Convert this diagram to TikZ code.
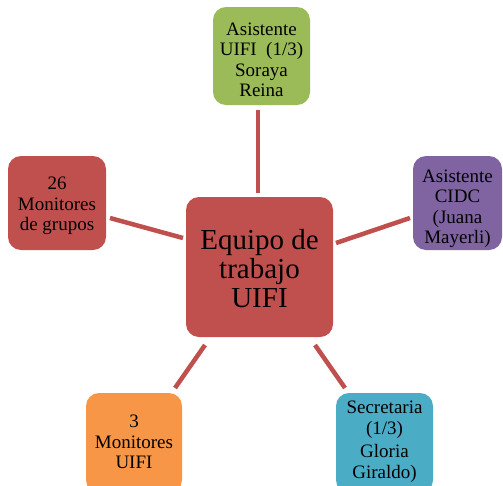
\documentclass[tikz,border=0pt]{standalone}
\usepackage{fontspec}
\setmainfont{Liberation Serif}
\definecolor{cred}{HTML}{C0504D}
\definecolor{cgreen}{HTML}{9BBB59}
\definecolor{cpurple}{HTML}{8064A2}
\definecolor{cblue}{HTML}{4BACC6}
\definecolor{corange}{HTML}{F79646}
\tikzset{
  box/.style={rounded corners=13pt, inner sep=0pt},
  btext/.style={align=center, font=\fontsize{19}{20.5}\selectfont, inner sep=0pt},
  link/.style={draw=cred, line width=4.5pt}
}
\begin{document}
\begin{tikzpicture}[x=1pt,y=-1pt]
\path[use as bounding box] (0,0) rectangle (503,485);
\clip (0,0) rectangle (503,485);
% boxes
\node[box, fill=cred, minimum width=147pt, minimum height=140pt] (c) at (259.5,267) {};
\node[box, fill=cgreen, minimum width=97pt, minimum height=98pt] (g) at (261.5,56) {};
\node[box, fill=cpurple, minimum width=89pt, minimum height=94pt] (p) at (457.5,203) {};
\node[box, fill=cred, minimum width=98pt, minimum height=94pt] (r) at (57,203) {};
\node[box, fill=corange, minimum width=96pt, minimum height=100pt] (o) at (134,443) {};
\node[box, fill=cblue, minimum width=97pt, minimum height=100pt] (b) at (384.5,443) {};
% texts
\node[align=center, font=\fontsize{29}{29}\selectfont, inner sep=0pt] (ct) at (259.5,269) {Equipo de\\trabajo\\UIFI};
\node[btext] (gt) at (261.5,60) {Asistente\\UIFI\ \ (1/3)\\Soraya\\Reina};
\node[btext] (pt) at (457.5,209) {Asistente\\CIDC\\(Juana\\Mayerli)};
\node[btext] (rt) at (57,206) {26\\Monitores\\de grupos};
\node[btext] (ot) at (134,442) {3\\Monitores\\UIFI};
\node[btext, anchor=north] (bt) at (384.5,401) {Secretaria\\(1/3)\\[3pt]Gloria\\Giraldo)};
% connectors
\coordinate (g1) at (258,110); \coordinate (c1) at (258,193);
\coordinate (r1) at (110,218); \coordinate (c2) at (183,238);
\coordinate (p1) at (410,218); \coordinate (c3) at (336,243);
\coordinate (o1) at (175,388); \coordinate (c4) at (205,345);
\coordinate (b1) at (345,388); \coordinate (c5) at (315,345);
\draw[link] (g1) -- (c1);
\draw[link] (r1) -- (c2);
\draw[link] (p1) -- (c3);
\draw[link] (o1) -- (c4);
\draw[link] (b1) -- (c5);
\end{tikzpicture}
\end{document}
